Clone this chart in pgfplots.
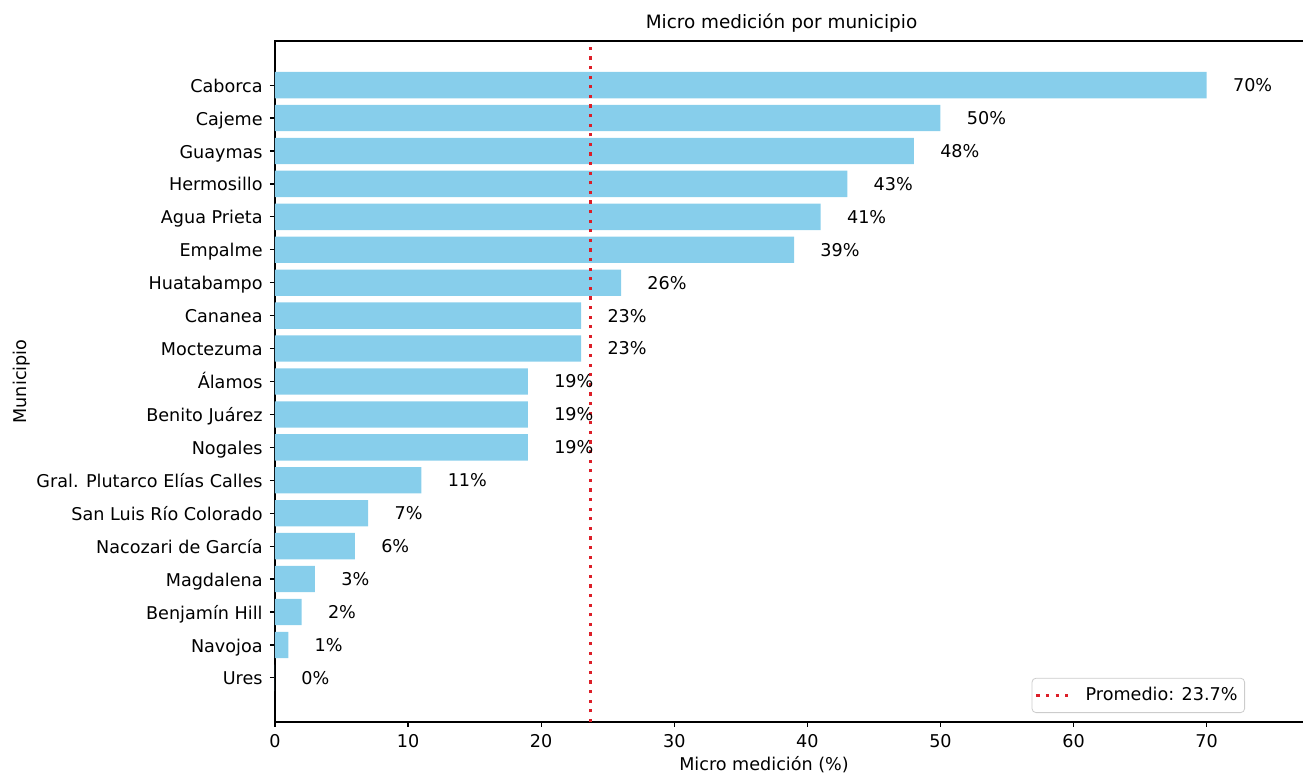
\documentclass[border=0pt]{standalone}
\usepackage{fontspec}
\setmainfont{DejaVu Sans}
\usepackage{pgfplots}
\pgfplotsset{compat=1.18}

\definecolor{barblue}{RGB}{135,206,235}
\definecolor{avgred}{RGB}{220,30,40}
\definecolor{legframe}{RGB}{204,204,204}

\newcommand{\lblfont}{\fontsize{8.8}{10}\selectfont}
\pgfplotsset{avgline/.style={legend image code/.code={\draw[#1] (0pt,0pt) -- (16.5pt,0pt); \path (22pt,0pt);}}}

\begin{document}
\begin{tikzpicture}
\begin{axis}[
  width=515.1pt, height=340.5pt,
  scale only axis,
  xmin=0, xmax=77.4,
  ymin=-1.34, ymax=19.34,
  axis line style={line width=0.6pt},
  xtick={0,10,...,70},
  ytick={0,1,...,18},
  yticklabels={Ures,Navojoa,Benjamín Hill,Magdalena,Nacozari de García,San Luis Río Colorado,Gral. Plutarco Elías Calles,Nogales,Benito Juárez,Álamos,Moctezuma,Cananea,Huatabampo,Empalme,Agua Prieta,Hermosillo,Guaymas,Cajeme,Caborca},
  tick align=outside,
  xtick pos=bottom, ytick pos=left,
  major tick length=2.5pt,
  tick style={line width=0.6pt, black},
  /pgf/number format/assume math mode=true,
  ticklabel style={font=\lblfont},
  xticklabel style={anchor=north, inner sep=0pt, yshift=-3.5pt},
  yticklabel style={anchor=mid east, inner sep=0pt, xshift=-3.5pt, yshift=-0.8pt},
  title={Micro medición por municipio},
  title style={font=\fontsize{9.2}{11}\selectfont, at={(rel axis cs:0.4917,1)}, anchor=base, inner sep=0pt, yshift=0pt},
  xlabel={Micro medición (\%)},
  xlabel style={font=\lblfont, at={(rel axis cs:0.4747,-0.0705)}, anchor=base, inner sep=0pt},
  ylabel={Municipio},
  ylabel style={font=\lblfont, at={(rel axis cs:-0.2456,0.5)}, anchor=center, inner sep=0pt},
  legend style={at={(axis cs:72.88,-1.067)}, anchor=south east,
    draw=legframe, rounded corners=2pt, fill=white, font=\lblfont,
    inner xsep=1.5pt, inner ysep=2.5pt, row sep=0pt},
  legend cell align=left,
]
\addplot[xbar, bar width=0.8, draw=none, fill=barblue, forget plot,
  point meta=x,
  nodes near coords={\pgfmathprintnumber[fixed,precision=0]{\pgfplotspointmeta}\%},
  every node near coord/.style={anchor=west, inner sep=0pt, xshift=13pt, font=\lblfont, black}]
coordinates {
(70,18) (50,17) (48,16) (43,15) (41,14) (39,13) (26,12) (23,11) (23,10)
(19,9) (19,8) (19,7) (11,6) (7,5) (6,4) (3,3) (2,2) (1,1) (0,0)
};
\addplot[avgred, line width=1.3pt, dash pattern=on 1.6pt off 3.2pt, avgline]
coordinates {(23.7,-1.34) (23.7,19.34)};
\addlegendentry{Promedio: 23.7\%}
\end{axis}
\pgfresetboundingbox
\path[use as bounding box] ([xshift=-137.5pt,yshift=-27pt]current axis.south west) rectangle ++(651.5pt,388pt);
\end{tikzpicture}
\end{document}
